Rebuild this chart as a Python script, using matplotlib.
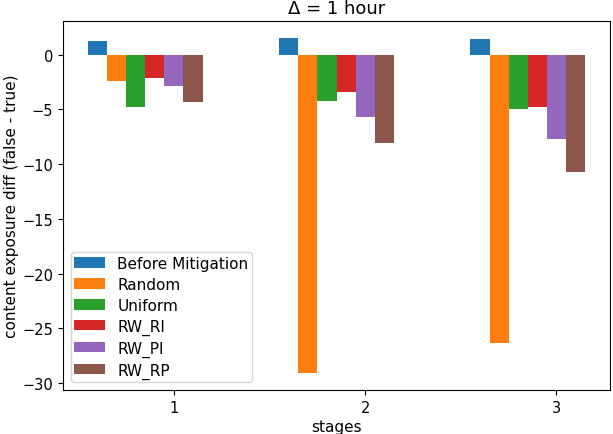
import matplotlib
matplotlib.use("Agg")
import matplotlib.pyplot as plt
import numpy as np

stages = [1, 2, 3]
series = ["Before Mitigation", "Random", "Uniform", "RW_RI", "RW_PI", "RW_RP"]
before = [1.25, 1.55, 1.45]
random_ = [-2.38, -29.1, -26.3]
uniform = [-4.73, -4.2, -4.94]
rw_ri = [-2.17, -3.45, -4.73]
rw_pi = [-2.84, -5.67, -7.68]
rw_rp = [-4.36, -8.05, -10.7]
values = [before, random_, uniform, rw_ri, rw_pi, rw_rp]

fig = plt.figure(figsize=(6.13, 4.35), dpi=100)
ax = fig.add_axes([63/613, 1-391/435, (610-63)/613, (391-22)/435])
x = np.array(stages, dtype=float)
w = 0.1
for i, (name, vals) in enumerate(zip(series, values)):
    ax.bar(x + (i - 4) * w, vals, width=w, label=name, color=f"C{i}")
ax.set_xticks(stages)
ax.tick_params(labelsize=10.5)
ax.set_title("Δ = 1 hour", fontsize=13)
ax.set_xlabel("stages", fontsize=11, labelpad=3)
ax.set_ylabel("content exposure diff (false - true)", fontsize=11, labelpad=2)
ax.legend(loc="lower left", fontsize=11, labelspacing=0.38, borderpad=0.25)
fig.savefig("out.png", dpi=100)
